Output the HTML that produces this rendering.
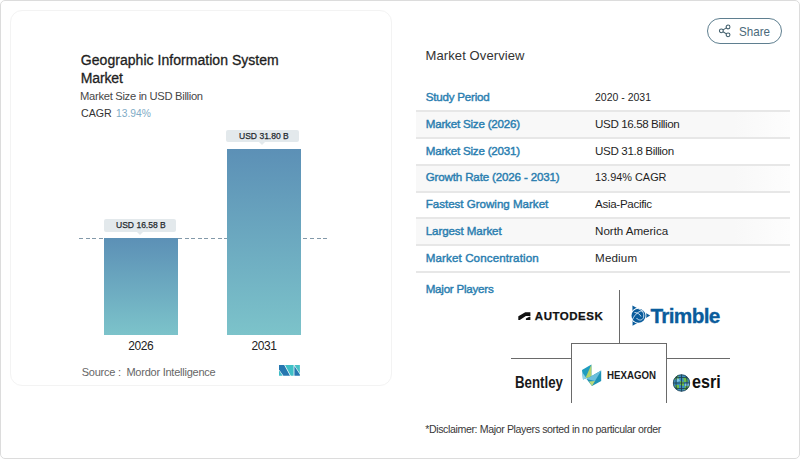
<!DOCTYPE html>
<html><head><meta charset="utf-8">
<style>
html,body{margin:0;padding:0;width:800px;height:459px;overflow:hidden;background:#fff;}
body{position:relative;font-family:"Liberation Sans", sans-serif;}
.t{position:absolute;white-space:nowrap;line-height:1;}
.frame{position:absolute;left:0;top:0;width:798px;height:457px;border:1px solid #dcdcdc;border-radius:5px;}
.card{position:absolute;left:10px;top:10px;width:380px;height:374px;border:1px solid #f3f3f3;border-radius:12px;}
.bar{position:absolute;background:linear-gradient(#5c90b6,#7cc3ca);}
.tip{position:absolute;background:#e3e9ec;border-radius:2px;}
.tip:after{content:"";position:absolute;left:50%;bottom:-3px;margin-left:-3px;border-left:3px solid transparent;border-right:3px solid transparent;border-top:3px solid #e3e9ec;}
.dash{position:absolute;left:79px;top:237.5px;width:249px;height:1px;background:repeating-linear-gradient(90deg,#8399a9 0 4px,transparent 4px 6.6px);}
.row{position:absolute;left:416px;width:374px;height:2px;margin-top:-0.25px;background:#e7e7e7;}
.shade{position:absolute;left:416px;width:374px;background:linear-gradient(90deg,#f8f8f8 0,#f8f8f8 85%,#fdfdfd 100%);}
.ln{position:absolute;background:#6a6a6a;}
.share{position:absolute;left:707px;top:18px;width:73px;height:24px;border:1.3px solid #5f7f90;border-radius:13px;}
</style></head><body>
<div class="frame"></div>
<div class="card"></div>

<div class="dash"></div>
<div class="bar" style="left:104px;top:238px;width:74px;height:97px;"></div>
<div class="bar" style="left:227px;top:149px;width:74px;height:186px;"></div>
<div class="tip" style="left:104px;top:219px;width:72px;height:12.5px;"></div>
<div class="tip" style="left:226.2px;top:129.5px;width:72.5px;height:12.9px;"></div>

<svg style="position:absolute;left:279.1px;top:364.9px" width="21" height="11" viewBox="0 0 21 11">
  <polygon points="0,0 5.2,0 11,10.8 4.4,10.8 0,4.4" fill="#2677b0"/>
  <polygon points="0,5.3 0,10.8 3.7,10.8" fill="#3dbcc6"/>
  <polygon points="6,0 14.6,0 14.6,10.8 11.8,10.8" fill="#3fc0c6"/>
  <polygon points="15.4,0 20.9,0 20.9,8.4" fill="#47c1c6"/>
  <polygon points="15.4,0.9 20.9,9.4 20.9,10.8 15.4,10.8" fill="#2677b0"/>
</svg>

<div class="share"></div>
<svg style="position:absolute;left:718px;top:24px" width="14" height="14" viewBox="0 0 14 14" fill="none" stroke="#3f5d6b" stroke-width="1.05">
  <circle cx="10.06" cy="2.95" r="1.9"/><circle cx="3.35" cy="6.8" r="1.9"/><circle cx="10.06" cy="10.86" r="1.9"/>
  <line x1="5.05" y1="5.85" x2="8.4" y2="3.9"/><line x1="5.05" y1="7.8" x2="8.4" y2="9.85"/>
</svg>

<div class="shade" style="top:111.5px;height:26px"></div>
<div class="shade" style="top:165px;height:26px"></div>
<div class="shade" style="top:218.5px;height:26.5px"></div>
<div class="row" style="top:110.5px"></div>
<div class="row" style="top:137.3px"></div>
<div class="row" style="top:164px"></div>
<div class="row" style="top:190.8px"></div>
<div class="row" style="top:217.5px"></div>
<div class="row" style="top:244.7px"></div>
<div class="row" style="top:271.5px"></div>

<div class="ln" style="left:619px;top:290px;width:1px;height:54px"></div>
<div class="ln" style="left:571px;top:343px;width:96px;height:1px"></div>
<div class="ln" style="left:571px;top:343px;width:1px;height:60px"></div>
<div class="ln" style="left:666px;top:343px;width:1px;height:60px"></div>
<div class="ln" style="left:511px;top:358px;width:60px;height:1px"></div>
<div class="ln" style="left:667px;top:358px;width:63px;height:1px"></div>

<!-- autodesk icon -->
<svg style="position:absolute;left:515px;top:308px" width="17" height="14" viewBox="0 0 17 14">
  <path d="M3.3,8.6 Q3.3,8.2 3.8,7.9 L10.3,4.2 L15.4,4.2 L15.4,8.1 L10.9,8.1 L4.8,11.9 L3.3,11.9 Z" fill="#111"/>
  <polygon points="10.9,10.5 14.3,8.8 15.4,8.8 15.4,11.9 10.9,11.9" fill="#111"/>
</svg>
<!-- trimble icon -->
<svg style="position:absolute;left:628px;top:303px" width="27" height="27" viewBox="0 0 27 27">
  <polygon points="4.4,2.6 22.2,12.6 4.6,22.8" fill="#0a5c9c"/>
  <circle cx="10.5" cy="12.7" r="7.9" fill="#fff"/>
  <circle cx="10.5" cy="12.7" r="7" fill="#0a5c9c"/>
  <path d="M4.5,16.5 C7,11 11,7.5 16,7.8 M10.5,6 C14.5,7 16.5,10.5 15.5,14.5 C14.5,17.5 10.5,18 8.5,15 M6.5,9.5 C9,9.5 12,11 13,13.5" stroke="#e8f2fa" stroke-width="0.85" fill="none"/>
</svg>
<!-- hexagon icon -->
<svg style="position:absolute;left:578px;top:360px" width="28" height="30" viewBox="0 0 28 30">
  <polygon points="4,10 13.4,4.6 13.4,16.5 5,19.5" fill="#1f9cbf"/>
  <polygon points="13.4,4.6 13.4,17 7.5,18" fill="#b3d36b"/>
  <polygon points="4,12 5,19.5 8.5,18.2" fill="#8fd0e6"/>
  <polygon points="8.5,19 23.2,10.5 23.2,20.9 14,26" fill="#1e93b6"/>
  <polygon points="8.5,19 23.2,10.5 17,21" fill="#6cbfdc"/>
  <polygon points="11,21.5 17,21 14,26" fill="#bcd97a"/>
</svg>
<!-- esri globe -->
<svg style="position:absolute;left:672px;top:374px" width="19" height="19" viewBox="0 0 19 19">
  <defs><clipPath id="gc"><circle cx="9.5" cy="9" r="8.4"/></clipPath></defs>
  <circle cx="9.5" cy="9" r="8.5" fill="#3b8fbf"/>
  <g clip-path="url(#gc)">
  <path d="M2,2 L6,1 L7,5 L3,6 Z M11,3 L15,4 L16,8 L12,8 Z M8,7 L12,8 L12,12 L8,11 Z M3,11 L7,11 L7,15 L4,15 Z M13,12 L17,12 L16,16 L12,16 Z" fill="#6fbf4a"/>
  <path d="M4,4 L7,5 L8,7 L5,8 Z M13,9 L17,9 L17,12 L13,12 Z" fill="#7ec4e4"/>
  <path d="M1,4.5 C6,3 13,3 18,4.5 M0.5,9 L18.5,9 M1,13.5 C6,15 13,15 18,13.5 M5.5,0 C3.5,6 3.5,12 5.5,18 M9.5,0 L9.5,18 M13.5,0 C15.5,6 15.5,12 13.5,18" stroke="#1c3a48" stroke-width="0.8" fill="none"/>
  </g>
  <circle cx="9.5" cy="9" r="8.2" fill="none" stroke="#2a4350" stroke-width="0.8"/>
</svg>

<div id="t1" class="t" style="left:80.80px;top:53.45px;font-size:14px;font-weight:normal;color:#1e1e1e;letter-spacing:0.040px;-webkit-text-stroke:0.3px #1e1e1e;">Geographic Information System</div>
<div id="t2" class="t" style="left:80.80px;top:71.05px;font-size:14px;font-weight:normal;color:#1e1e1e;letter-spacing:-0.159px;-webkit-text-stroke:0.3px #1e1e1e;">Market</div>
<div id="t3" class="t" style="left:80.10px;top:91.42px;font-size:11.2px;font-weight:normal;color:#474747;letter-spacing:-0.303px;">Market Size in USD Billion</div>
<div id="t4" class="t" style="left:80.50px;top:107.67px;font-size:11.5px;font-weight:normal;color:#333333;transform:scaleX(0.9268);transform-origin:0 0;">CAGR</div>
<div id="t5" class="t" style="left:116.20px;top:107.67px;font-size:11.5px;font-weight:normal;color:#80abc6;transform:scaleX(0.8920);transform-origin:0 0;">13.94%</div>
<div id="tip1" class="t" style="left:115.80px;top:220.29px;font-size:9.7px;font-weight:normal;color:#22282c;transform:scaleX(0.8807);transform-origin:0 0;-webkit-text-stroke:0.25px #22282c;">USD 16.58 B</div>
<div id="tip2" class="t" style="left:238.60px;top:131.49px;font-size:9.7px;font-weight:normal;color:#22282c;transform:scaleX(0.8807);transform-origin:0 0;-webkit-text-stroke:0.25px #22282c;">USD 31.80 B</div>
<div id="x1" class="t" style="left:128.30px;top:339.64px;font-size:12px;font-weight:normal;color:#222222;letter-spacing:-0.401px;">2026</div>
<div id="x2" class="t" style="left:251.50px;top:339.64px;font-size:12px;font-weight:normal;color:#222222;letter-spacing:-0.401px;">2031</div>
<div id="src" class="t" style="left:81.70px;top:366.69px;font-size:11px;font-weight:normal;color:#666666;letter-spacing:-0.237px;">Source :&nbsp; Mordor Intelligence</div>
<div id="mo" class="t" style="left:425.50px;top:49.00px;font-size:13px;font-weight:normal;color:#333333;letter-spacing:0.105px;">Market Overview</div>
<div id="l1" class="t" style="left:425.70px;top:90.98px;font-size:11.6px;font-weight:normal;color:#2a7eb0;letter-spacing:-0.217px;-webkit-text-stroke:0.42px #2a7eb0;">Study Period</div>
<div id="l2" class="t" style="left:425.70px;top:117.98px;font-size:11.6px;font-weight:normal;color:#2a7eb0;letter-spacing:-0.203px;-webkit-text-stroke:0.42px #2a7eb0;">Market Size (2026)</div>
<div id="l3" class="t" style="left:425.70px;top:144.78px;font-size:11.6px;font-weight:normal;color:#2a7eb0;letter-spacing:-0.203px;-webkit-text-stroke:0.42px #2a7eb0;">Market Size (2031)</div>
<div id="l4" class="t" style="left:425.70px;top:171.48px;font-size:11.6px;font-weight:normal;color:#2a7eb0;letter-spacing:-0.163px;-webkit-text-stroke:0.42px #2a7eb0;">Growth Rate (2026 - 2031)</div>
<div id="l5" class="t" style="left:425.70px;top:198.28px;font-size:11.6px;font-weight:normal;color:#2a7eb0;letter-spacing:-0.022px;-webkit-text-stroke:0.42px #2a7eb0;">Fastest Growing Market</div>
<div id="l6" class="t" style="left:425.70px;top:225.08px;font-size:11.6px;font-weight:normal;color:#2a7eb0;letter-spacing:-0.102px;-webkit-text-stroke:0.42px #2a7eb0;">Largest Market</div>
<div id="l7" class="t" style="left:425.70px;top:251.78px;font-size:11.6px;font-weight:normal;color:#2a7eb0;letter-spacing:0.113px;-webkit-text-stroke:0.42px #2a7eb0;">Market Concentration</div>
<div id="l8" class="t" style="left:425.70px;top:283.18px;font-size:11.6px;font-weight:normal;color:#2a7eb0;letter-spacing:-0.240px;-webkit-text-stroke:0.42px #2a7eb0;">Major Players</div>
<div id="v1" class="t" style="left:595.10px;top:90.98px;font-size:11.6px;font-weight:normal;color:#1f1f1f;transform:scaleX(0.9048);transform-origin:0 0;">2020 - 2031</div>
<div id="v2" class="t" style="left:595.10px;top:117.98px;font-size:11.6px;font-weight:normal;color:#1f1f1f;letter-spacing:-0.392px;">USD 16.58 Billion</div>
<div id="v3" class="t" style="left:595.10px;top:144.78px;font-size:11.6px;font-weight:normal;color:#1f1f1f;letter-spacing:-0.361px;">USD 31.8 Billion</div>
<div id="v4" class="t" style="left:595.10px;top:171.48px;font-size:11.6px;font-weight:normal;color:#1f1f1f;transform:scaleX(0.9402);transform-origin:0 0;">13.94% CAGR</div>
<div id="v5" class="t" style="left:595.10px;top:198.28px;font-size:11.6px;font-weight:normal;color:#1f1f1f;letter-spacing:-0.324px;">Asia-Pacific</div>
<div id="v6" class="t" style="left:595.10px;top:225.08px;font-size:11.6px;font-weight:normal;color:#1f1f1f;letter-spacing:-0.038px;">North America</div>
<div id="v7" class="t" style="left:595.10px;top:251.78px;font-size:11.6px;font-weight:normal;color:#1f1f1f;letter-spacing:0.150px;">Medium</div>
<div id="share" class="t" style="left:739.00px;top:24.57px;font-size:13.5px;font-weight:normal;color:#4b6a7b;transform:scaleX(0.8604);transform-origin:0 0;">Share</div>
<div id="disc" class="t" style="left:425.20px;top:424.33px;font-size:10.6px;font-weight:normal;color:#383838;letter-spacing:-0.376px;">*Disclaimer: Major Players sorted in no particular order</div>
<div id="adsk" class="t" style="left:534.80px;top:310.97px;font-size:11.5px;font-weight:bold;color:#111111;letter-spacing:0.525px;-webkit-text-stroke:0.25px #111;">AUTODESK</div>
<div id="trim" class="t" style="left:650.40px;top:305.99px;font-size:20.8px;font-weight:bold;color:#0a5c9c;letter-spacing:-0.661px;-webkit-text-stroke:0.3px #0a5c9c;">Trimble</div>
<div id="hex" class="t" style="left:606.60px;top:370.31px;font-size:10.5px;font-weight:bold;color:#1a1a1a;transform:scaleX(0.9229);transform-origin:0 0;">HEXAGON</div>
<div id="bent" class="t" style="left:515.30px;top:374.01px;font-size:17px;font-weight:bold;color:#1a1a1a;transform:scaleX(0.7815);transform-origin:0 0;">Bentley</div>
<div id="esri" class="t" style="left:692.30px;top:373.34px;font-size:18.5px;font-weight:bold;color:#111111;transform:scaleX(0.8718);transform-origin:0 0;">esri</div>
</body></html>
